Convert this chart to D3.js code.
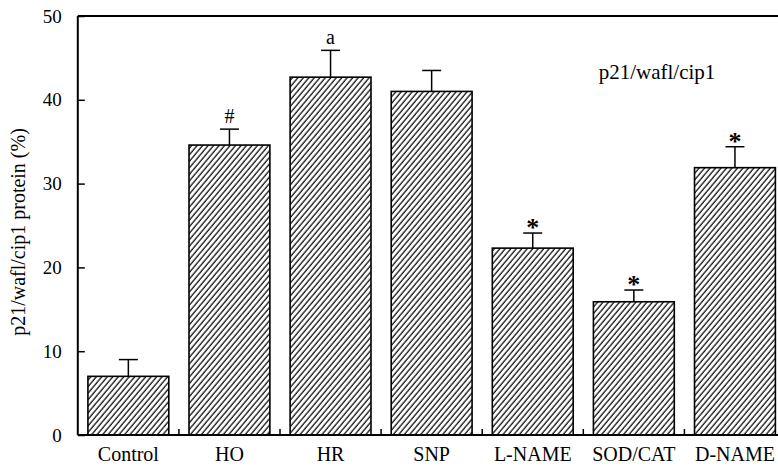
<!DOCTYPE html>
<html>
<head>
<meta charset="utf-8">
<script src="https://cdn.jsdelivr.net/npm/d3@7"></script>
<style>
  html, body { margin: 0; padding: 0; background: #fff; }
  svg { display: block; font-family: "Liberation Serif", "Times New Roman", serif; }
</style>
</head>
<body>
<svg id="chart" width="778" height="467"></svg>
<script>
// Treatment groups and measured p21/waf1/cip1 protein levels (%)
const categories = ["Control", "HO", "HR", "SNP", "L-NAME", "SOD/CAT", "D-NAME"];
const means = [7.0, 34.6, 42.7, 41.0, 22.3, 15.9, 31.9];
const errors = [2.0, 1.9, 3.2, 2.5, 1.8, 1.4, 2.5];
const marks = ["", "#", "a", "", "*", "*", "*"];
const yTicks = [0, 10, 20, 30, 40, 50];

const svg = d3.select("#chart");
const left = 77.8, step = 101.1;
const x = d3.scaleBand()
  .domain(categories)
  .range([left, left + step * categories.length])
  .paddingInner(0.2)
  .paddingOuter(0.1);
const y = d3.scaleLinear().domain([0, 50]).range([435, 16]);

// diagonal hatch fill
const defs = svg.append("defs");
const pat = defs.append("pattern")
  .attr("id", "hatch")
  .attr("patternUnits", "userSpaceOnUse")
  .attr("width", 4.2).attr("height", 4.2)
  .attr("patternTransform", "rotate(40)");
pat.append("rect").attr("width", 4.2).attr("height", 4.2).attr("fill", "#fff");
pat.append("line")
  .attr("x1", 1).attr("y1", 0).attr("x2", 1).attr("y2", 4.2)
  .attr("stroke", "#111").attr("stroke-width", 1.3);

const data = categories.map((c, i) => ({ c, v: means[i], e: errors[i], m: marks[i] }));

// bars
svg.append("g").selectAll("rect")
  .data(data).join("rect")
  .attr("x", d => x(d.c))
  .attr("y", d => y(d.v))
  .attr("width", x.bandwidth())
  .attr("height", d => y(0) - y(d.v))
  .attr("fill", "url(#hatch)")
  .attr("stroke", "#000")
  .attr("stroke-width", 1.6);

// error bars (upper only)
const eb = svg.append("g").attr("stroke", "#000").attr("stroke-width", 1.5);
eb.selectAll("line.v").data(data).join("line").attr("class", "v")
  .attr("x1", d => x(d.c) + x.bandwidth() / 2)
  .attr("x2", d => x(d.c) + x.bandwidth() / 2)
  .attr("y1", d => y(d.v))
  .attr("y2", d => y(d.v + d.e));
eb.selectAll("line.cap").data(data).join("line").attr("class", "cap")
  .attr("x1", d => x(d.c) + x.bandwidth() / 2 - 9.5)
  .attr("x2", d => x(d.c) + x.bandwidth() / 2 + 9.5)
  .attr("y1", d => y(d.v + d.e))
  .attr("y2", d => y(d.v + d.e));

// significance marks
svg.append("g").selectAll("text")
  .data(data.filter(d => d.m)).join("text")
  .attr("x", d => x(d.c) + x.bandwidth() / 2)
  .attr("y", d => y(d.v + d.e) - (d.m === "*" ? -3 : 6))
  .attr("text-anchor", "middle")
  .attr("font-size", d => d.m === "*" ? 26 : 20)
  .attr("font-weight", d => d.m === "*" ? "bold" : "normal")
  .attr("fill", "#000")
  .text(d => d.m);

// y axis with inward ticks
const yAxis = d3.axisLeft(y).tickValues(yTicks).tickSize(-7).tickPadding(16);
const gy = svg.append("g").attr("transform", `translate(${left},0)`).call(yAxis);
gy.select(".domain").attr("stroke-width", 2).attr("d", `M0,${y(0)}V${y(50)}`);
gy.selectAll(".tick line").attr("stroke-width", 1.5);
gy.selectAll(".tick text")
  .attr("font-size", 19).attr("font-family", "Liberation Serif, serif").attr("fill", "#000");

// x axis: baseline with small upward ticks between groups
const boundaries = categories.slice(1).map(c => x(c) - x.step() * x.paddingInner() / 2);
const xAxis = d3.axisBottom(x).tickSize(0).tickPadding(12);
const gx = svg.append("g").attr("transform", `translate(0,${y(0)})`).call(xAxis);
gx.select(".domain").attr("stroke-width", 2).attr("d", `M${left},0H778`);
gx.selectAll(".tick text")
  .attr("font-size", 20).attr("font-family", "Liberation Serif, serif").attr("fill", "#000");
gx.append("g").selectAll("line").data(boundaries).join("line")
  .attr("x1", d => d).attr("x2", d => d)
  .attr("y1", 0).attr("y2", -6)
  .attr("stroke", "#000").attr("stroke-width", 1.5);

// top frame line
svg.append("line")
  .attr("x1", left).attr("x2", 778)
  .attr("y1", y(50)).attr("y2", y(50))
  .attr("stroke", "#000").attr("stroke-width", 2);

// y axis title
svg.append("text")
  .attr("transform", "translate(25,232) rotate(-90)")
  .attr("text-anchor", "middle")
  .attr("font-size", 20)
  .attr("fill", "#000")
  .text("p21/wafl/cip1 protein (%)");

// panel label
svg.append("text")
  .attr("x", 657).attr("y", 79)
  .attr("text-anchor", "middle")
  .attr("font-size", 21)
  .attr("fill", "#000")
  .text("p21/wafl/cip1");
</script>
</body>
</html>
